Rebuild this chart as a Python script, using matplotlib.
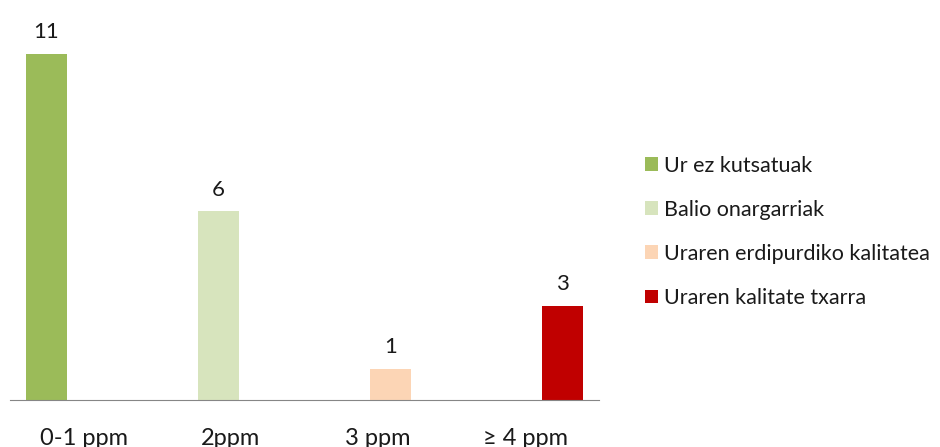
import numpy as np
import matplotlib.pyplot as plt

plt.rcParams['font.family'] = ['Lato', 'DejaVu Sans']

# Data
categories = ['0-1 ppm', '2ppm', '3 ppm', '≥ 4 ppm']
series_names = ['Ur ez kutsatuak', 'Balio onargarriak',
                'Uraren erdipurdiko kalitatea', 'Uraren kalitate txarra']
values = [
    [11, 0, 0, 0],
    [0, 6, 0, 0],
    [0, 0, 1, 0],
    [0, 0, 0, 3],
]
colors = ['#9BBB59', '#D7E4BD', '#FCD5B5', '#C00000']

fig = plt.figure(figsize=(9.4, 4.47), dpi=100)
ax = fig.add_axes([10 / 940, 47 / 447, 589 / 940, 378 / 447])

x = np.arange(len(categories))
step = 0.17
width = 0.278
for i, (name, vals, c) in enumerate(zip(series_names, values, colors)):
    pos = x + (i - 1.5) * step
    bars = ax.bar(pos, vals, width, color=c, label=name)
    for b, v in zip(bars, vals):
        if v:
            ax.text(b.get_x() + b.get_width() / 2, v + 0.36, str(v),
                    ha='center', va='bottom', fontsize=16, color='#1a1a1a')

ax.set_xlim(-0.5, 3.5)
ax.set_ylim(0, 12)
ax.set_xticks(x)
ax.set_xticklabels(categories, fontsize=17, color='#1a1a1a')
ax.tick_params(axis='x', length=0, pad=20)
ax.set_yticks([])
for s in ['top', 'right', 'left']:
    ax.spines[s].set_visible(False)
ax.spines['bottom'].set_color('#868686')

leg = fig.legend(loc='upper left', bbox_to_anchor=(636 / 940, 1 - 147 / 447),
                 frameon=False, fontsize=15.5, handlelength=0.6,
                 handleheight=0.6, handletextpad=0.3, labelspacing=1.12,
                 borderaxespad=0)
for t in leg.get_texts():
    t.set_color('#1a1a1a')

fig.savefig('out.png', dpi=100)
